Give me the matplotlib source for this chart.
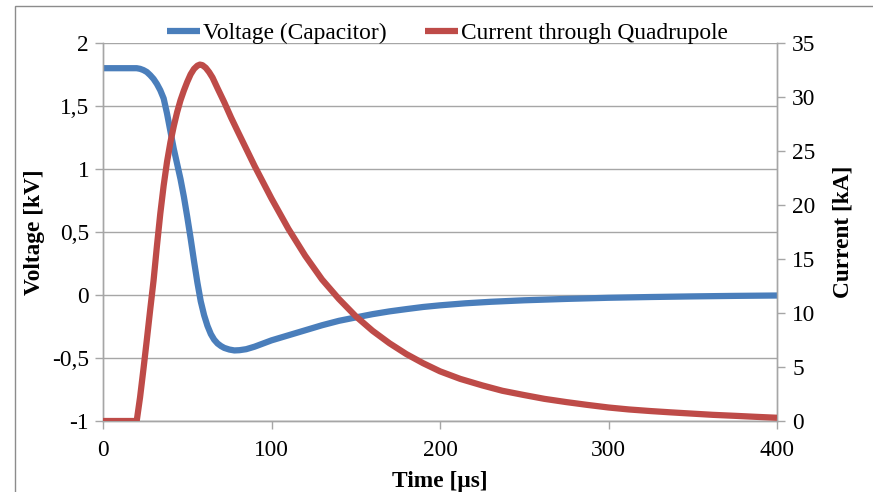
import matplotlib
matplotlib.use("Agg")
import matplotlib.pyplot as plt
from matplotlib.patches import Rectangle
from matplotlib.ticker import FuncFormatter, MultipleLocator

# ---- data ----
t_voltage = [0, 18, 20, 22, 24, 26, 28, 30, 32, 34, 36, 38, 40, 42, 44, 46, 48, 50, 52,
             54, 56, 58, 60, 62, 64, 66, 68, 70, 72, 75, 78, 81, 85, 90, 95, 100, 110,
             120, 130, 140, 150, 160, 170, 180, 190, 200, 215, 230, 250, 275, 300, 325,
             350, 375, 400]
voltage = [1.80, 1.80, 1.80, 1.795, 1.785, 1.77, 1.745, 1.715, 1.675, 1.625, 1.56, 1.44,
           1.30, 1.16, 1.04, 0.92, 0.78, 0.62, 0.45, 0.27, 0.10, -0.05, -0.16, -0.245,
           -0.31, -0.355, -0.385, -0.405, -0.42, -0.433, -0.44, -0.438, -0.43, -0.41,
           -0.385, -0.36, -0.32, -0.28, -0.24, -0.205, -0.178, -0.152, -0.13, -0.112,
           -0.095, -0.082, -0.066, -0.054, -0.042, -0.031, -0.022, -0.016, -0.011,
           -0.007, -0.004]

t_current = [0, 20, 22, 24, 26, 28, 30, 32, 34, 36, 38, 40, 42, 44, 46, 48, 50, 52, 54,
             56, 57.5, 59, 61, 63, 65, 68, 72, 76, 80, 85, 90, 95, 100, 105, 110, 120,
             130, 140, 150, 160, 170, 180, 190, 200, 212, 225, 237, 250, 262, 275, 287,
             300, 312, 325, 337, 350, 362, 375, 387, 400]
current = [0, 0, 2.2, 4.8, 7.5, 10.3, 13.0, 16.2, 19.2, 21.8, 24.0, 25.8, 27.3, 28.6,
           29.7, 30.6, 31.4, 32.1, 32.6, 32.9, 33.0, 32.95, 32.7, 32.3, 31.8, 30.8, 29.5,
           28.1, 26.8, 25.2, 23.6, 22.1, 20.6, 19.2, 17.8, 15.3, 13.1, 11.3, 9.7, 8.35,
           7.2, 6.2, 5.35, 4.6, 3.9, 3.3, 2.8, 2.4, 2.05, 1.75, 1.5, 1.25, 1.07, 0.92,
           0.8, 0.68, 0.57, 0.48, 0.39, 0.3]

labels = ["Voltage (Capacitor)", "Current through Quadrupole"]
xlabel = "Time [µs]"
ylabel_left = "Voltage [kV]"
ylabel_right = "Current [kA]"

BLUE = "#4A7EBB"
RED = "#BE4B48"
GRID = "#A6A6A6"
FS = 16.8

plt.rcParams['font.family'] = ['Liberation Serif', 'DejaVu Serif']

W, H = 873, 492
fig = plt.figure(figsize=(W / 100, H / 100), dpi=100)

# outer frame of the chart area
fig.patches.append(Rectangle((15 / W, -0.1), 1.2, 1 - 6 / H + 0.1,
                             transform=fig.transFigure, fill=False,
                             edgecolor="#8C8C8C", lw=1.0))

ax = fig.add_axes([103 / W, 1 - 421 / H, (777 - 103) / W, (421 - 43) / H])
ax2 = ax.twinx()

l1, = ax.plot(t_voltage, voltage, color=BLUE, lw=4.5, solid_capstyle='butt',
              solid_joinstyle='round', label=labels[0], zorder=3)
l2, = ax2.plot(t_current, current, color=RED, lw=4.5, solid_capstyle='butt',
               solid_joinstyle='round', label=labels[1], zorder=3)

ax.set_xlim(0, 400)
ax.set_ylim(-1, 2)
ax2.set_ylim(0, 35)
ax.xaxis.set_major_locator(MultipleLocator(100))
ax.yaxis.set_major_locator(MultipleLocator(0.5))
ax2.yaxis.set_major_locator(MultipleLocator(5))

def comma(v, pos):
    s = ("%g" % v).replace(".", ",")
    return s
ax.yaxis.set_major_formatter(FuncFormatter(comma))

ax.grid(axis='y', color=GRID, lw=1.0)
ax.set_axisbelow(True)

for a in (ax, ax2):
    for s in a.spines.values():
        s.set_color(GRID)
        s.set_linewidth(1.0)
    a.spines['top'].set_visible(False)
    a.tick_params(colors=GRID, labelcolor='black', labelsize=FS, length=6, width=1.0,
                  direction='out')
ax.tick_params(axis='y', pad=4)
ax2.tick_params(axis='y', pad=5)
ax.tick_params(axis='x', pad=8)

ax.set_xlabel(xlabel, fontsize=FS, fontweight='bold', labelpad=7)
ax.set_ylabel(ylabel_left, fontsize=FS, fontweight='bold', labelpad=5)
ax2.set_ylabel(ylabel_right, fontsize=FS, fontweight='bold', labelpad=12)

fig.legend(handles=[l1, l2], labels=labels, loc='center',
           bbox_to_anchor=(447.5 / W, 1 - 33 / H), ncol=2, frameon=False,
           fontsize=FS, handlelength=1.42, handletextpad=0.12, columnspacing=1.67,
           borderpad=0, borderaxespad=0)

fig.savefig("out.png", dpi=100)
